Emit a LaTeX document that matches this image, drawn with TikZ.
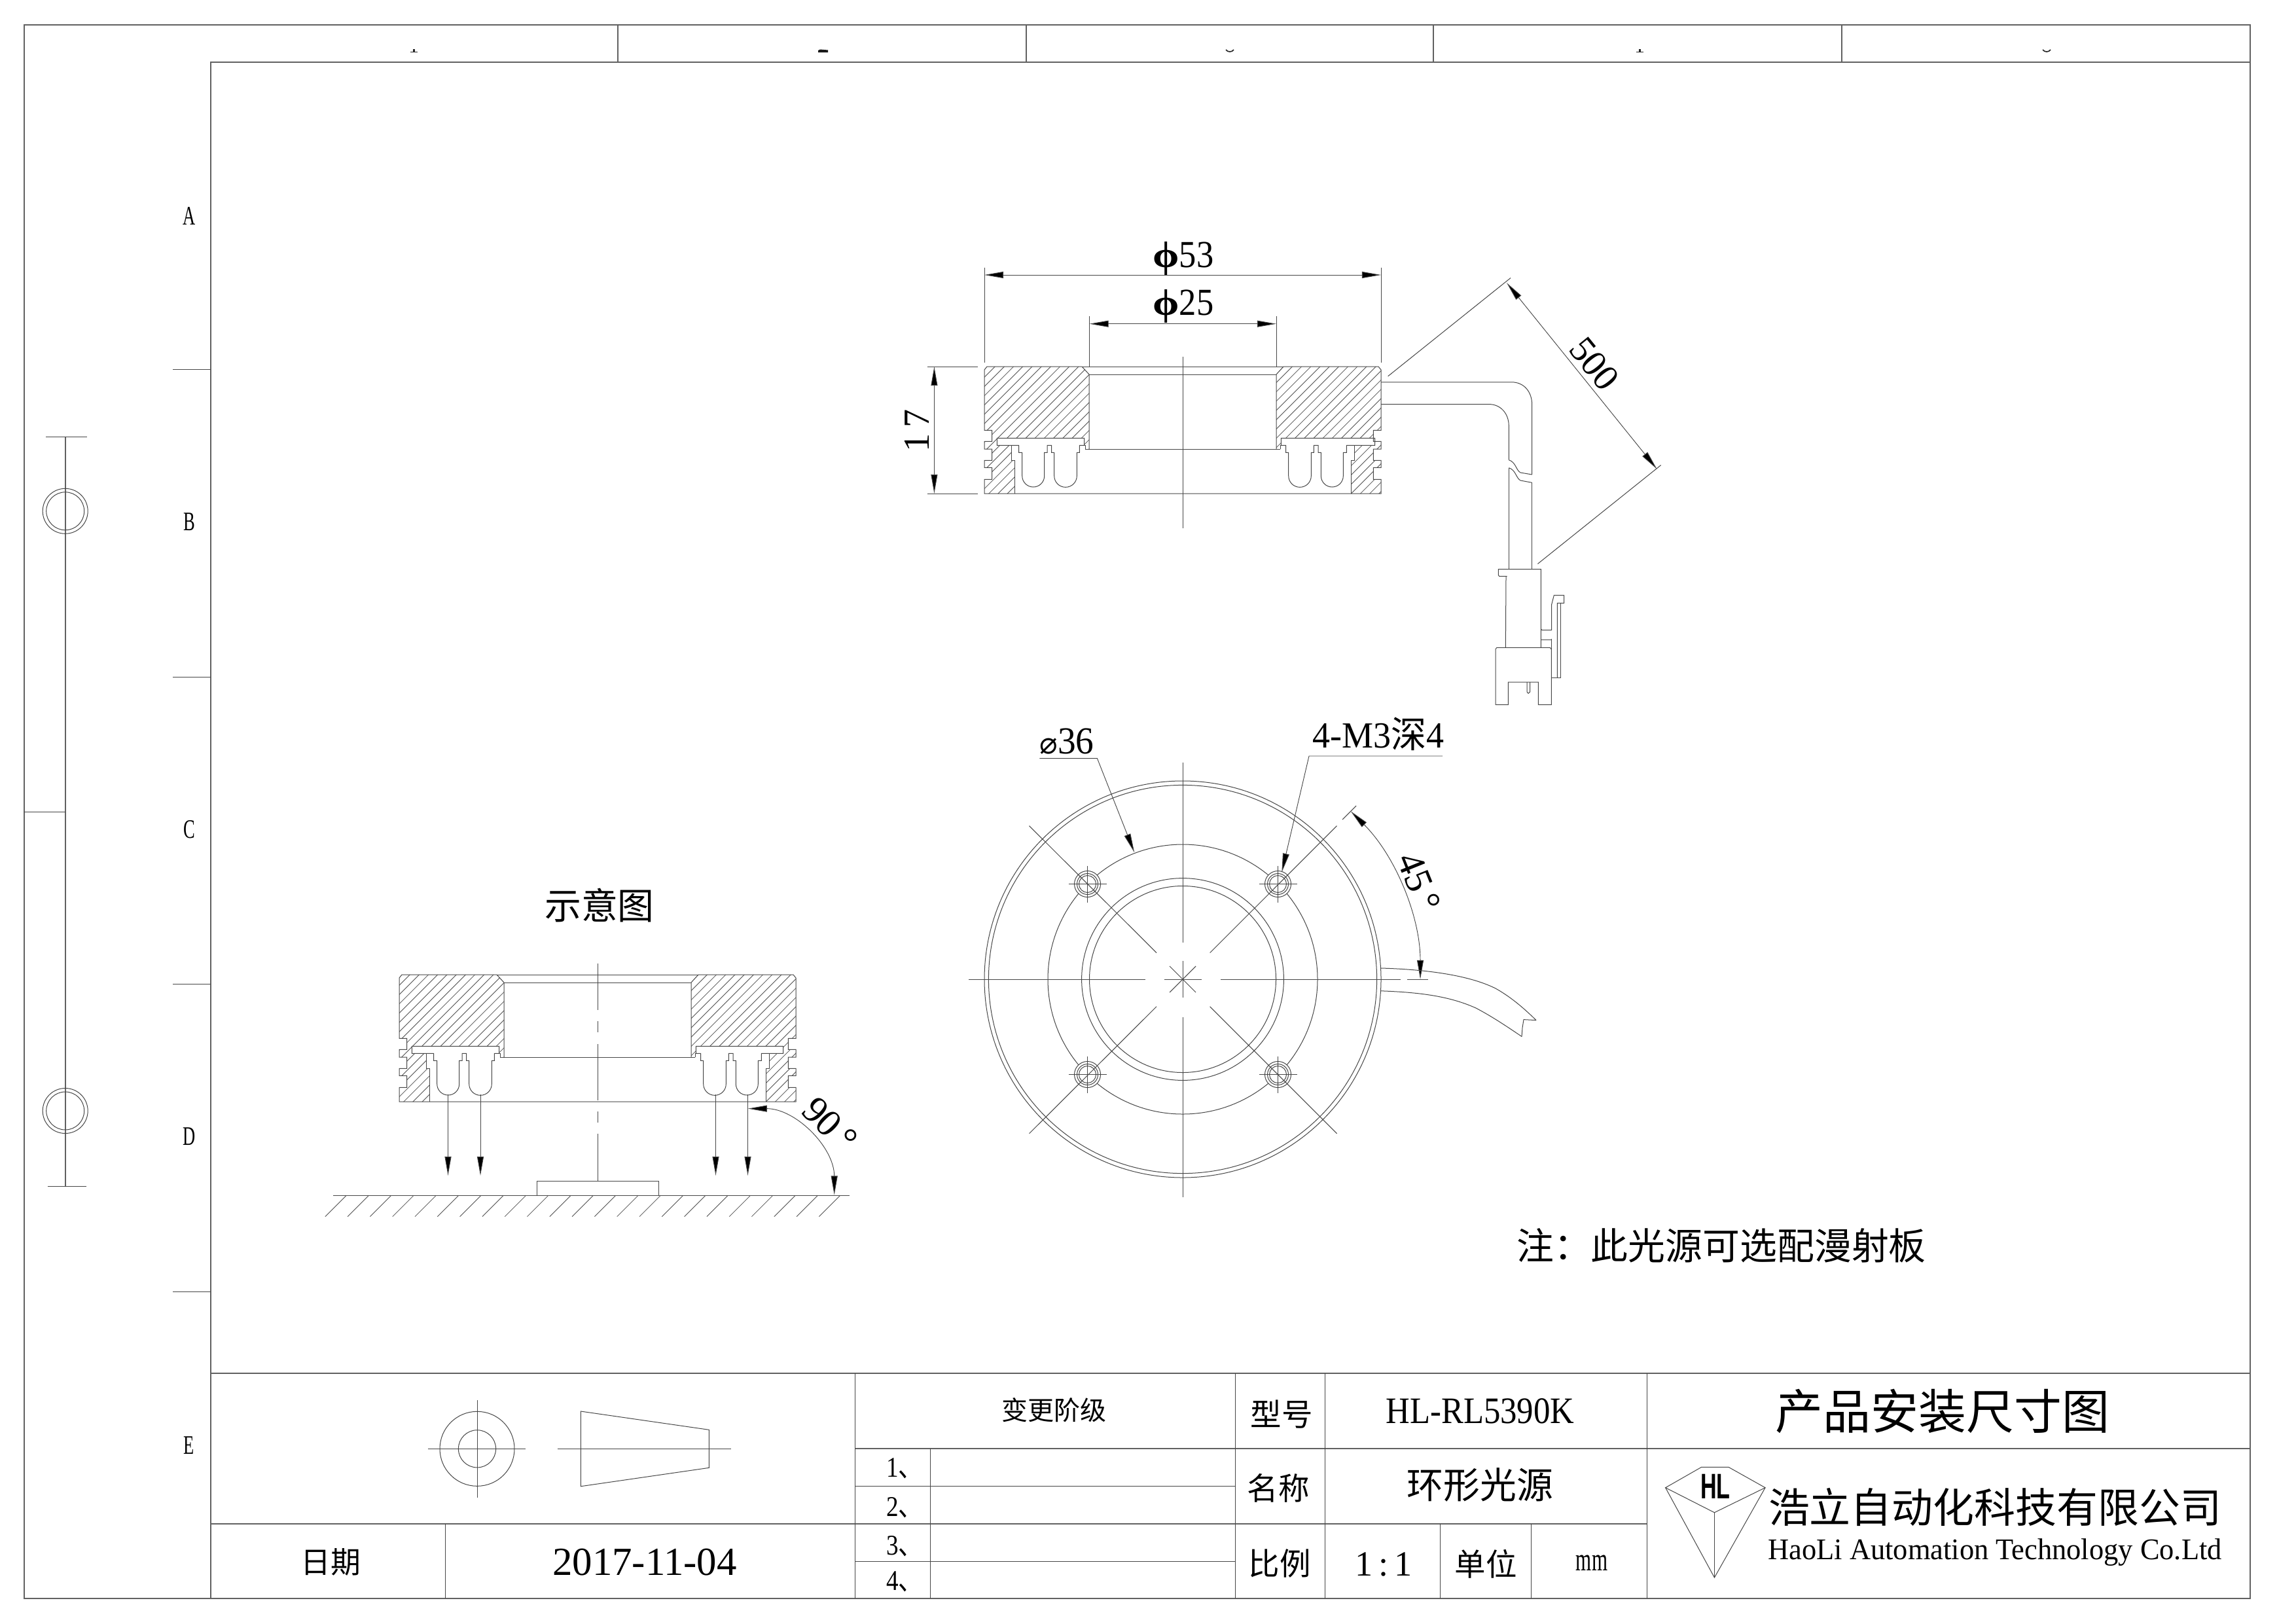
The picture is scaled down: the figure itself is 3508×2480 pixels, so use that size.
\documentclass[tikz,border=0pt]{standalone}
\usepackage{fontspec}
\usepackage{graphicx}
\usetikzlibrary{arrows.meta}
\setmainfont{Liberation Serif}
\newfontfamily\cjk{Noto Sans CJK SC}
\newfontfamily\djv{DejaVu Sans}
\newfontfamily\lsans{Liberation Sans}
\newcommand\fsz[1]{\fontsize{#1}{#1}\selectfont}
\newcommand\sx[2]{\scalebox{#1}[1]{#2}}
% half of the ring section, in the coordinates of the left half of the main view
% #1 = +1/-1 hatch sign, #2 = first hatch constant, #3 = outer end of the LED plate
\newcommand\halfsec[3]{%
  \begin{scope}
    \clip (1664,572)--(1653,560)--(1508,560)--(1504,565)--(1504,657.3)--(1515.7,657.3)--(1515.7,674.3)--(1504,674.3)--(1504,686)--(1515.7,686)--(1515.7,703.3)--(1504,703.3)--(1504,714.3)--(1515.7,714.3)--(1515.7,732.3)--(1504,732.3)--(1504,754)--(1550,754)--(1550,703.3)--(1545,703.3)--(1545,680.3)--(#3,680.3)--(#3,669.3)--(1656.7,669.3)--(1656.7,680.3)--(1658,680.3)--(1658,686)--(1664,686)--cycle;
    \foreach \i in {0,...,27}{
      \pgfmathsetmacro\cc{#2+14.2*\i}
      \pgfmathsetmacro\ya{#1*(\cc-1480)}
      \pgfmathsetmacro\yb{#1*(\cc-1700)}
      \draw[hatchl] (1480,\ya)--(1700,\yb);
    }
  \end{scope}
  \draw[thinl] (1664,686)--(1664,572)--(1653,560)--(1508,560)--(1504,565)--(1504,657.3)--(1515.7,657.3)--(1515.7,674.3)--(1504,674.3)--(1504,686)--(1515.7,686)--(1515.7,703.3)--(1504,703.3)--(1504,714.3)--(1515.7,714.3)--(1515.7,732.3)--(1504,732.3)--(1504,754)--(1807,754);
  \draw[thinl] (1653,560)--(1807,560) (1664,572)--(1807,572);
  \draw[thinl] (1550,754)--(1550,703.3)--(1545,703.3)--(1545,680.3);
  \draw[thinl] (1658,686)--(1807,686);
  \draw[thinl] (1658,686)--(1658,680.3)--(1656.7,680.3);
  \draw[thinl] (1561.7,727) arc[start angle=180,end angle=0,radius=17] --(1595.7,691.3)--(1600,691.3)--(1600,680.3)--(1606.7,680.3)--(1606.7,691.3)--(1610.7,691.3)--(1610.7,727) arc[start angle=180,end angle=0,radius=17.3] --(1645.3,691.3)--(1649.3,691.3)--(1649.3,680.3)--(1656.7,680.3)--(1656.7,669.3)--(#3,669.3)--(#3,680.3)--(1556.7,680.3)--(1556.7,691.3)--(1561.7,691.3)--(1561.7,727);
}
\tikzset{
  thinl/.style={line width=.24pt,draw=black!72},
  hatchl/.style={line width=.2pt,draw=black!68},
  framel/.style={line width=.42pt,draw=black!62},
  dimarr/.style={line width=.22pt,draw=black!72,{Triangle[length=7pt,width=2.4pt,fill=black]}-{Triangle[length=7pt,width=2.4pt,fill=black]}},
  endarr/.style={line width=.22pt,draw=black!72,-{Triangle[length=7pt,width=2.4pt,fill=black]}},
  lbl/.style={inner sep=0pt,outer sep=0pt,text=black,anchor=center},
}
\begin{document}
\begin{tikzpicture}[x=0.24pt,y=-0.24pt]
\useasboundingbox (0,0) rectangle (3508,2480);
\fill[white] (0,0) rectangle (3508,2480);

% ---------- sheet frame
\draw[framel] (36.7,38.3) rectangle (3438,2442.3);
\draw[framel] (322,2442.3)--(322,95.3)--(3438,95.3);
\foreach \xx in {944,1568,2190,2814}{\draw[framel] (\xx,38.3)--(\xx,95.3);}
% clipped feet of the zone numbers along the top edge
\fill[black!85] (626.5,78.5) rectangle (637.5,80);
\fill[black!85] (630.5,75) rectangle (633.5,79);
\fill[black!90] (1250,80)--(1250,77)--(1253,75.5)--(1265,76.5)--(1265,80)--cycle;
\draw[black!85,line width=.4pt] (1873,76) .. controls (1876,80) and (1882,80) .. (1885,76);
\fill[black!85] (2499.5,78.5) rectangle (2510.5,80);
\fill[black!85] (2503.5,75) rectangle (2506.5,79);
\draw[black!85,line width=.4pt] (3121,76) .. controls (3124,80) and (3130,80) .. (3133,76);
\foreach \yy in {564.5,1034,1503.5,1973}{\draw[thinl] (264,\yy)--(322,\yy);}
\node[lbl,font=\fsz{9.8}] (zA) at (289,330) {\sx{.65}{A}};
\node[lbl,font=\fsz{9.8}] (zB) at (289,797) {\sx{.65}{B}};
\node[lbl,font=\fsz{9.8}] (zC) at (289,1267) {\sx{.65}{C}};
\node[lbl,font=\fsz{9.8}] (zD) at (289,1736) {\sx{.65}{D}};
\node[lbl,font=\fsz{9.8}] (zE) at (289,2208) {\sx{.65}{E}};

% binding marks
\draw[framel] (99.7,667.4)--(99.7,1812);
\draw[thinl] (70.3,667.4)--(133,667.4) (72.7,1812)--(132,1812);
\draw[thinl] (36.7,1240.6)--(99.7,1240.6);
\foreach \yy in {780.8,1697}{
  \draw[thinl] (99.7,\yy) circle[radius=34.5];
  \draw[thinl] (99.7,\yy) circle[radius=29];
}

% ---------- main section view
\halfsec{1}{2066}{1523.3}
\begin{scope}[shift={(3614,0)},xscale=-1]
  \halfsec{-1}{753}{1513.3}
\end{scope}
\draw[thinl] (1807,545)--(1807,806.7);

% dimensions
\draw[thinl] (1504,408.7)--(1504,554) (2110,408.7)--(2110,554);
\draw[dimarr] (1504,420)--(2110,420);
\node[lbl,font=\fsz{14}] (d53) at (1808,395) {{\bfseries\fsz{13.5}\sx{1.15}{ϕ}}\sx{.9}{53}};
\draw[thinl] (1664.5,482.8)--(1664.5,560) (1950,482.8)--(1950,560);
\draw[dimarr] (1664.5,494.7)--(1950,494.7);
\node[lbl,font=\fsz{14}] (d25) at (1808,468) {{\bfseries\fsz{13.5}\sx{1.15}{ϕ}}\sx{.9}{25}};
\draw[thinl] (1416.7,560)--(1494,560) (1416.7,754)--(1494,754);
\draw[dimarr] (1427.4,560)--(1427.4,754);
\node[lbl,font=\fsz{13.5},rotate=90] (d17) at (1401,658) {1\,7};
\draw[thinl] (2120.6,574.8)--(2308,424.6) (2349.4,861.4)--(2537.6,710.6);
\draw[dimarr] (2302,432)--(2531.5,716.6);
\node[lbl,font=\fsz{13.5},rotate=-51] (d500) at (2436,556) {500};

% cable
\draw[thinl] (2110,583.8)--(2309.6,583.8) .. controls (2328,583.8) and (2340.7,598) .. (2340.7,618.6)--(2340.7,725);
\draw[thinl] (2110,617.6)--(2275,617.6) .. controls (2293,617.6) and (2305.3,632) .. (2305.3,651)--(2305.3,702.7);
\draw[thinl] (2305.3,702.7) .. controls (2316,706) and (2316,718) .. (2323,722)--(2340.7,725);
\draw[thinl] (2305.3,714.7) .. controls (2316,718) and (2316,730) .. (2323,734)--(2340.7,737.3);
\draw[thinl] (2305.3,714.7)--(2305.3,869.5) (2340.7,737.3)--(2340.7,869.5);
% connector
\draw[thinl] (2302.7,880.3)--(2290.7,880.3)--(2289.3,878.7)--(2289.3,869.5)--(2354.3,869.5)--(2354.3,989.3);
\draw[thinl] (2301,880.3)--(2300.3,989.3);
\draw[thinl] (2285,1076.7)--(2285,991.5)--(2287,989.3)--(2368.3,989.3)--(2370.3,992)--(2370.3,1076.7)--(2350.3,1076.7)--(2350.3,1042)--(2304.3,1042)--(2304.3,1076.7)--cycle;
\draw[thinl] (2333,1042)--(2333,1057)--(2335,1059.3)--(2337.7,1057)--(2337.7,1042);
\draw[thinl] (2354.3,960.7)--(2356,962.7)--(2370.7,962.7)--(2370.7,923.3)--(2374.3,909.3)--(2389.7,909.3)--(2389.7,921.3)--(2379.3,921.3)--(2379.3,1035.3);
\draw[thinl] (2384.3,921.3)--(2384.3,1035.3)--(2370.7,1035.3)--(2370.7,976);
\draw[thinl] (2354.3,977.7)--(2370.7,977.7);

% ---------- plan view
\draw[thinl] (1807,1496) circle[radius=303];
\draw[thinl] (1807,1496) circle[radius=296.6];
\draw[thinl] (1807,1496) circle[radius=206];
\draw[thinl] (1807,1496) circle[radius=154.4];
\draw[thinl] (1807,1496) circle[radius=142.5];
\foreach \hx/\hy in {1661.5/1350.5,1952.5/1350.5,1661.5/1641.5,1952.5/1641.5}{
  \draw[thinl,fill=white] (\hx,\hy) circle[radius=20];
  \draw[thinl] (\hx,\hy) circle[radius=16];
  \draw[thinl] (\hx,\hy) circle[radius=13];
  \draw[thinl] (\hx-29,\hy)--(\hx+29,\hy) (\hx,\hy-28)--(\hx,\hy+28);
}
\draw[thinl] (1480,1496)--(1750,1496) (1778.5,1496)--(1836,1496) (1865,1496)--(2140,1496) (2150,1496)--(2181.5,1496);
\draw[thinl] (1807,1164.6)--(1807,1439.7) (1807,1468)--(1807,1524) (1807,1553.6)--(1807,1828.7);
\draw[thinl] (1572.5,1261.6)--(1767,1455.6) (2042.5,1261.6)--(1848.6,1455.6) (1767,1537.7)--(1572.5,1731.7) (1848.6,1537.7)--(2042.5,1731.7);
\draw[thinl] (1787,1476)--(1827,1516) (1827,1476)--(1787,1516);
\draw[thinl] (2051,1252)--(2072,1231);
\draw[dimarr] (2063.7,1239.3) arc[start angle=-45,end angle=0,radius=363];
\node[lbl,font=\fsz{14},rotate=-68] (d45) at (2168,1348) {45\,°};
% cable, plan view
\draw[thinl] (2110,1479) .. controls (2180,1481) and (2245,1490) .. (2285,1510) .. controls (2310,1524) and (2330,1542) .. (2347,1558.6);
\draw[thinl] (2110,1513.8) .. controls (2170,1516) and (2215,1522) .. (2255,1540) .. controls (2280,1553) and (2305,1570) .. (2325,1583.5);
\draw[thinl] (2347,1558.6)--(2328,1557.6)--(2326,1570)--(2325,1583.5);
% leaders
\draw[endarr] (1588.4,1158.6)--(1676.4,1158.6)--(1733.2,1302.4);
\node[lbl,font=\fsz{14}] (d36) at (1630,1133) {{\djv\fsz{11}⌀}\sx{.95}{36}};
\draw[endarr] (2204,1155)--(2000,1155)--(1958.3,1332.7);
\node[lbl,font=\fsz{13.5}] (dm3) at (2106,1121) {\sx{.96}{4-M3{\cjk 深}4}};

% ---------- schematic
\begin{scope}[shift={(-894,929)}]
  \halfsec{1}{2066}{1523.3}
  \begin{scope}[shift={(3614,0)},xscale=-1]
    \halfsec{-1}{753}{1523.3}
  \end{scope}
\end{scope}
\node[lbl,font=\fsz{13.4}\cjk] (sch) at (916,1383) {示意图};
\draw[thinl] (913.3,1471.7)--(913.3,1543) (913.3,1560)--(913.3,1577) (913.3,1595)--(913.3,1680.7) (913.3,1698)--(913.3,1715) (913.3,1732)--(913.3,1805);
\foreach \ax in {684.5,734,1093.5,1142.5}{\draw[endarr] (\ax,1672)--(\ax,1796);}
\draw[thinl] (820.6,1826.4)--(820.6,1804.3)--(1006.4,1804.3)--(1006.4,1826.4);
\draw[thinl] (509,1826.4)--(1297.6,1826.4);
\foreach \k in {0,...,22}{\draw[hatchl] (496.8+34.3*\k,1858.6)--(529+34.3*\k,1826.4);}
\draw[dimarr] (1142.7,1693.6) arc[start angle=-90,end angle=0,radius=132];
\node[lbl,font=\fsz{14},rotate=-45] (d90) at (1268,1718) {90\,°};

\node[lbl,font=\fsz{13.65}\cjk] (note) at (2630,1903) {注：此光源可选配漫射板};

% ---------- title block
\draw[framel] (322,2098)--(3438,2098);
\draw[framel] (1306.7,2213.3)--(3438,2213.3);
\draw[thinl] (1306.7,2270.7)--(1887,2270.7) (1306.7,2385.3)--(1887,2385.3);
\draw[framel] (322,2328)--(2516.6,2328);
\draw[thinl] (680,2328)--(680,2442.3);
\foreach \xx in {1306.7,1887,2024.3,2516.6}{\draw[thinl] (\xx,2098)--(\xx,2442.3);}
\draw[thinl] (1421,2213.3)--(1421,2442.3);
\draw[thinl] (2200.9,2328)--(2200.9,2442.3) (2339,2328)--(2339,2442.3);

% projection symbol
\draw[thinl] (729,2213.3) circle[radius=57];
\draw[thinl] (729,2213.3) circle[radius=28.6];
\draw[thinl] (653.7,2213.3)--(802.7,2213.3) (729,2139)--(729,2287.7);
\draw[thinl] (887.3,2156)--(1083.3,2184.3)--(1083.3,2242.3)--(887.3,2270.7)--cycle;
\draw[thinl] (851.6,2213.3)--(1117,2213.3);

% logo
\draw[thinl] (2599.6,2241.3)--(2641,2241.3)--(2697,2272.7)--(2619.4,2310.7)--(2544.6,2272.7)--cycle;
\draw[thinl] (2544.6,2272.7)--(2619.4,2410)--(2697,2272.7);
\draw[thinl] (2619.4,2310.7)--(2619.4,2410);
\node[lbl,font=\fsz{13}\lsans\bfseries] (logo) at (2621,2271) {\sx{.63}{HL}};

% texts
\node[lbl,font=\fsz{9.6}\cjk] (t1) at (1610,2154) {变更阶级};
\node[lbl,font=\fsz{10.5},anchor=west] (r1) at (1354,2243) {\sx{.85}{1{\cjk 、}}};
\node[lbl,font=\fsz{10.5},anchor=west] (r2) at (1354,2303) {\sx{.85}{2{\cjk 、}}};
\node[lbl,font=\fsz{10.5},anchor=west] (r3) at (1354,2362) {\sx{.85}{3{\cjk 、}}};
\node[lbl,font=\fsz{10.5},anchor=west] (r4) at (1354,2416) {\sx{.85}{4{\cjk 、}}};
\node[lbl,font=\fsz{11}\cjk] (t2) at (505,2386) {日期};
\node[lbl,font=\fsz{14.6}] (t3) at (985,2387) {2017-11-04};
\node[lbl,font=\fsz{11.4}\cjk] (t4) at (1958,2161) {型号};
\node[lbl,font=\fsz{13.7}] (t5) at (2261.5,2156) {\sx{.89}{HL-RL5390K}};
\node[lbl,font=\fsz{17.5}\cjk] (t6) at (2968,2156) {产品安装尺寸图};
\node[lbl,font=\fsz{11.4}\cjk] (t7) at (1953,2273) {名称};
\node[lbl,font=\fsz{13.4}\cjk] (t8) at (2261.5,2268) {环形光源};
\node[lbl,font=\fsz{11.4}\cjk] (t9) at (1955,2388) {比例};
\node[lbl,font=\fsz{13}] (t10) at (2114,2390) {1\,:\,1};
\node[lbl,font=\fsz{11.4}\cjk] (t11) at (2270,2389) {单位};
\node[lbl,font=\fsz{12}] (t12) at (2432,2388) {\sx{.62}{mm}};
\node[lbl,font=\fsz{15.1}\cjk] (t13) at (3048,2302) {浩立自动化科技有限公司};
\node[lbl,font=\fsz{11}] (t14) at (3048,2372) {\sx{.97}{HaoLi Automation Technology Co.Ltd}};
\end{tikzpicture}
\end{document}
